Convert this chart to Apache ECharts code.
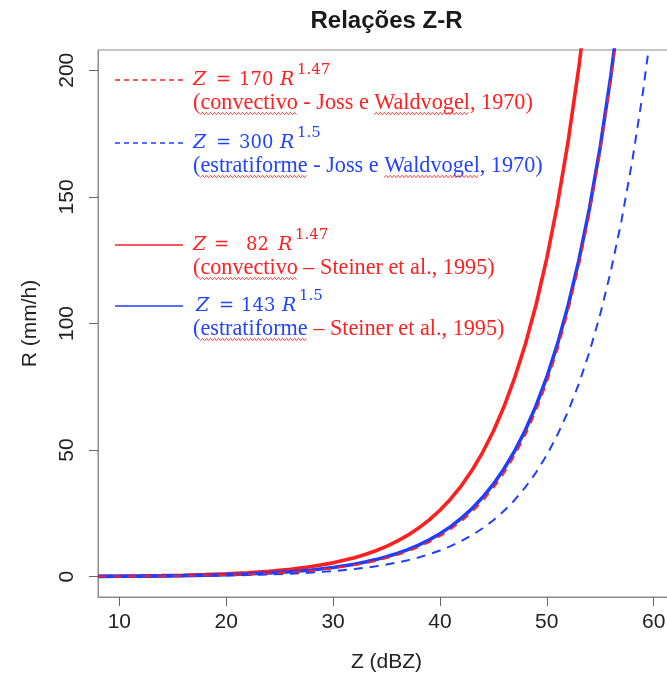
<!DOCTYPE html>
<html>
<head>
<meta charset="utf-8">
<script src="https://cdn.jsdelivr.net/npm/echarts@6/dist/echarts.min.js"></script>
<style>html,body{margin:0;padding:0;background:#fff}#c{width:667px;height:680px}</style>
</head>
<body>
<div id="c"></div>
<script>
// ---- data ----
const dbz = [8,10,12,14,16,18,20,22,24,26,28,30,32,33,34,35,36,37,38,39,40,41,42,43,44,45,46,47,48,49,50,51,52,53,54,55,56,57,58,59,60];
// Z = 82 R^1.47 (convectivo - Steiner et al., 1995)
const rSteinerConv = [0.175,0.239,0.327,0.447,0.612,0.837,1.14,1.57,2.14,2.93,4.01,5.48,7.50,8.77,10.26,12.00,14.04,16.41,19.20,22.45,26.26,30.71,35.92,42.02,49.14,57.46,67.21,78.61,91.92,107.5,125.7,147.1,172.0,201.2,235.3];
// Z = 170 R^1.47 (convectivo - Joss e Waldvogel, 1970)
const rJossConv = [0.106,0.146,0.199,0.272,0.372,0.510,0.697,0.953,1.30,1.78,2.44,3.34,4.57,5.34,6.25,7.31,8.55,10.00,11.69,13.67,15.99,18.70,21.87,25.59,29.92,34.99,40.93,47.87,55.97,65.47,76.57,89.57,104.8,122.5,143.3,167.6,196.1,229.3];
// Z = 143 R^1.5 (estratiforme - Steiner et al., 1995)
const rSteinerStrat = [0.125,0.170,0.231,0.314,0.426,0.579,0.787,1.07,1.46,1.98,2.69,3.66,4.97,5.80,6.76,7.88,9.19,10.71,12.49,14.56,16.97,19.79,23.08,26.90,31.36,36.56,42.63,49.70,57.95,67.57,78.80,91.86,107.1,124.9,145.6,169.7,197.9,230.8];
// Z = 300 R^1.5 (estratiforme - Joss e Waldvogel, 1970)
const rJossStrat = [0.076,0.104,0.141,0.191,0.260,0.353,0.480,0.654,0.889,1.21,1.64,2.23,3.03,3.54,4.12,4.81,5.61,6.54,7.62,8.88,10.36,12.08,14.08,16.41,19.14,22.31,26.01,30.33,35.36,41.23,48.08,56.05,65.35,76.20,88.84,103.6,120.8,140.8,164.2,191.4,223.2];
const xTicks = [10,20,30,40,50,60];
const yTicks = [0,50,100,150,200];
const titleText = 'Relações Z-R';
const xName = 'Z (dBZ)';
const yName = 'R (mm/h)';

// ---- styling ----
const RED = '#ff1f1f', BLUE = '#1f3fff';
const TRED = '#ff2020', TBLUE = '#2244ff';
const SANS = "'Liberation Sans', Arial, sans-serif";
const SERIF = "'Liberation Serif', 'Times New Roman', serif";
const MATH = "'DejaVu Serif', serif";

function pairs(vals){ return vals.map((v,i)=>[dbz[i], v]); }

const chart = echarts.init(document.getElementById('c'), null, {renderer:'canvas'});

const ctx = document.createElement('canvas').getContext('2d');
function measure(t, size){ ctx.font = size + "px 'Liberation Serif'"; return ctx.measureText(t).width; }

const entries = [
  {y:80, dash:true, color:RED, tcol:TRED, num:'170', exp:'1.47', nx:239, rx:280, sx:297, zx:193, ex:216,
   segs:[['(',TRED,0],['convectivo',TRED,1],[' - Joss e ',TRED,0],['Waldvogel',TRED,1],[', 1970)',TRED,0]]},
  {y:143, dash:true, color:BLUE, tcol:TBLUE, num:'300', exp:'1.5', nx:239, rx:280, sx:297, zx:193, ex:216,
   segs:[['(',TBLUE,0],['estratiforme',TBLUE,1],[' - Joss e ',TBLUE,0],['Waldvogel',TBLUE,1],[', 1970)',TBLUE,0]]},
  {y:245, dash:false, color:RED, tcol:TRED, num:'82', exp:'1.47', nx:246, rx:278, sx:295, zx:193, ex:214,
   segs:[['(',TRED,0],['convectivo',TRED,1],[' – Steiner et al., 1995)',TRED,0]]},
  {y:306, dash:false, color:BLUE, tcol:TBLUE, num:'143', exp:'1.5', nx:241, rx:282, sx:299, zx:196, ex:219,
   segs:[['(',TBLUE,0],['estratiforme',TBLUE,1],[' – Steiner et al., 1995)',TRED,0]]}
];

// fit paren font to the measured width of the first line (193 -> 533)
const baseW = measure('(convectivo - Joss e Waldvogel, 1970)', 20);
const PS = 20 * 340 / baseW;

const graphics = [];
graphics.push({type:'text', style:{text:titleText, x:386.5, y:21, font:"bold 24px " + SANS, fill:'#1a1a1a', align:'center', verticalAlign:'middle', textAlign:'center', textVerticalAlign:'middle'}});

entries.forEach(e => {
  graphics.push({type:'line', shape:{x1:115, y1:e.y, x2:183, y2:e.y},
    style:{stroke:e.color, lineWidth:1.4, lineDash: e.dash ? [5,4] : null}});
  const my = e.y;
  const mfont = "18px " + MATH, ifont = "italic 19px " + MATH;
  const T = (text, x, y, font, fill) => graphics.push({type:'text', style:{text, x, y, font, fill, align:'left', verticalAlign:'middle', textAlign:'left', textVerticalAlign:'middle'}});
  T('Z', e.zx, my, ifont, e.tcol);
  T('=', e.ex, my, "18px " + MATH, e.tcol);
  T(e.num, e.nx, my, mfont, e.tcol);
  T('R', e.rx, my, ifont, e.tcol);
  T(e.exp, e.sx, my - 10, "15px " + MATH, e.tcol);
  // parenthetical line
  let x = 193;
  const py = e.y + 23;
  e.segs.forEach(s => {
    const w = measure(s[0], PS);
    T(s[0], x, py, PS.toFixed(2) + "px " + SERIF, s[1]);
    if (s[2]) {
      const pts = [];
      const uy = py + 10.5;
      let k = 0;
      for (let xx = x; xx <= x + w; xx += 2) { pts.push([xx, uy + (k % 2 ? -1.2 : 1.2)]); k++; }
      graphics.push({type:'polyline', shape:{points:pts}, style:{stroke:'#e8302a', lineWidth:0.9, fill:null}});
    }
    x += w;
  });
});

const axisFont = {fontSize:21, color:'#222', fontFamily:SANS};

chart.setOption({
  animation:false,
  backgroundColor:'#fff',
  grid:{left:98, top:50, width:577, height:547, outerBoundsMode:'none', containLabel:false, show:true, borderColor:'#8c8c8c', borderWidth:1, backgroundColor:'transparent'},
  xAxis:{type:'value', min:8, max:62,
    axisLine:{show:true, onZero:false, lineStyle:{color:'#8c8c8c', width:1}},
    axisTick:{show:true, customValues:xTicks, length:9, lineStyle:{color:'#666', width:1}},
    axisLabel:Object.assign({customValues:xTicks, margin:15}, axisFont),
    splitLine:{show:false},
    name:xName, nameLocation:'middle', nameGap:55, nameTextStyle:{fontSize:21, color:'#222', fontFamily:SANS}},
  yAxis:{type:'value', min:-8, max:208,
    axisLine:{show:true, onZero:false, lineStyle:{color:'#8c8c8c', width:1}},
    axisTick:{show:true, customValues:yTicks, length:9, lineStyle:{color:'#666', width:1}},
    axisLabel:Object.assign({customValues:yTicks, margin:20, rotate:90}, axisFont),
    splitLine:{show:false},
    name:yName, nameLocation:'middle', nameGap:57, nameTextStyle:{fontSize:21, color:'#222', fontFamily:SANS}},
  series:[
    {type:'line', data:pairs(rJossStrat), showSymbol:false, symbol:'none', clip:true, lineStyle:{color:BLUE, width:2, type:[9,7]}},
    {type:'line', data:pairs(rSteinerConv), showSymbol:false, symbol:'none', clip:true, lineStyle:{color:RED, width:3.6}},
    {type:'line', data:pairs(rSteinerStrat), showSymbol:false, symbol:'none', clip:true, lineStyle:{color:BLUE, width:3.6}},
    {type:'line', data:pairs(rJossConv), showSymbol:false, symbol:'none', clip:true, lineStyle:{color:RED, width:1.8, type:[8,7]}}
  ],
  graphic:graphics
});
</script>
</body>
</html>
